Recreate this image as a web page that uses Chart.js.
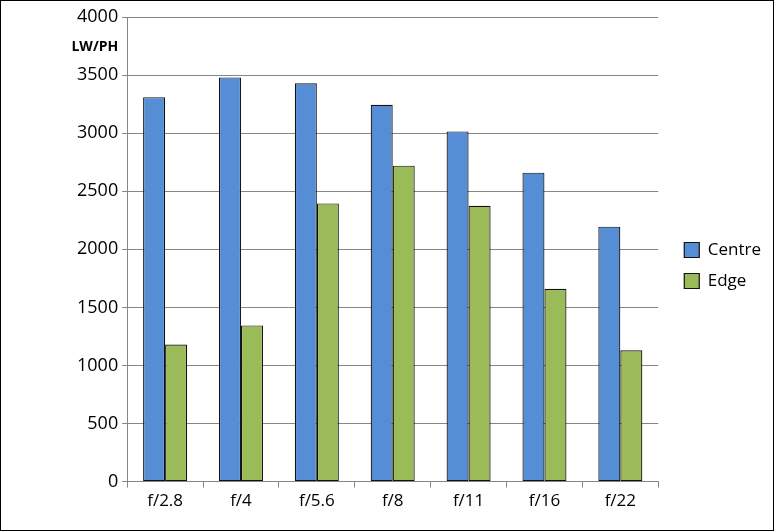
<!DOCTYPE html>
<html>
<head>
<meta charset="utf-8">
<script src="https://cdn.jsdelivr.net/npm/chart.js@4"></script>
<style>
    html, body { margin: 0; padding: 0; background: #fff; }
    #wrap { width: 772px; height: 529px; border: 1px solid #000; position: relative; }
    canvas { display: block; }
</style>
</head>
<body>
<div id="wrap"><canvas id="chart" width="772" height="529"></canvas></div>
<script>
"use strict";

var categories = ["f/2.8", "f/4", "f/5.6", "f/8", "f/11", "f/16", "f/22"];
var centreValues = [3310, 3480, 3430, 3245, 3015, 2660, 2195];
var edgeValues = [1180, 1345, 2395, 2720, 2375, 1660, 1130];
var axisLabel = "LW/PH";

var FONT = "'Open Sans', 'Noto Sans', sans-serif";

// draws the small bold unit label left of the axis
var unitLabel = {
    id: "unitLabel",
    afterLayout: function (chart) {
        // push the legend a little further from the plot
        chart.legend.left += 12;
        chart.legend.right += 12;
    },
    afterDraw: function (chart) {
        var ctx = chart.ctx;
        var area = chart.chartArea;
        ctx.save();
        ctx.font = "bold 14px " + FONT;
        ctx.fillStyle = "#000";
        ctx.textAlign = "right";
        ctx.textBaseline = "middle";
        ctx.fillText(axisLabel, area.left - 9, area.top + 30);
        ctx.restore();
    }
};

var ctx = document.getElementById("chart").getContext("2d");

new Chart(ctx, {
    type: "bar",
    data: {
        labels: categories,
        datasets: [{
            label: "Centre",
            data: centreValues,
            backgroundColor: "#558ed5",
            borderColor: "#111",
            borderWidth: 1.2,
            borderSkipped: false
        }, {
            label: "Edge",
            data: edgeValues,
            backgroundColor: "#9bbb59",
            borderColor: "#111",
            borderWidth: 1.2,
            borderSkipped: false
        }]
    },
    options: {
        responsive: false,
        animation: false,
        barPercentage: 1,
        categoryPercentage: 0.58,
        layout: {
            padding: { top: 16, right: 14, bottom: 16, left: 72 }
        },
        plugins: {
            legend: {
                position: "right",
                labels: {
                    font: { family: FONT, size: 17 },
                    color: "#000",
                    boxWidth: 15,
                    boxHeight: 15,
                    padding: 14
                }
            },
            tooltip: { enabled: false }
        },
        scales: {
            x: {
                grid: {
                    offset: true,
                    drawOnChartArea: false,
                    drawTicks: true,
                    tickLength: 6,
                    color: "#868686"
                },
                border: { color: "#868686" },
                ticks: {
                    font: { family: FONT, size: 17 },
                    color: "#000",
                    padding: 3
                }
            },
            y: {
                min: 0,
                max: 4000,
                ticks: {
                    stepSize: 500,
                    font: { family: FONT, size: 18 },
                    color: "#000",
                    padding: 4,
                    callback: function (v) { return String(v); }
                },
                grid: {
                    color: "#868686",
                    tickLength: 5
                },
                border: { color: "#868686" }
            }
        }
    },
    plugins: [unitLabel]
});
</script>
</body>
</html>
